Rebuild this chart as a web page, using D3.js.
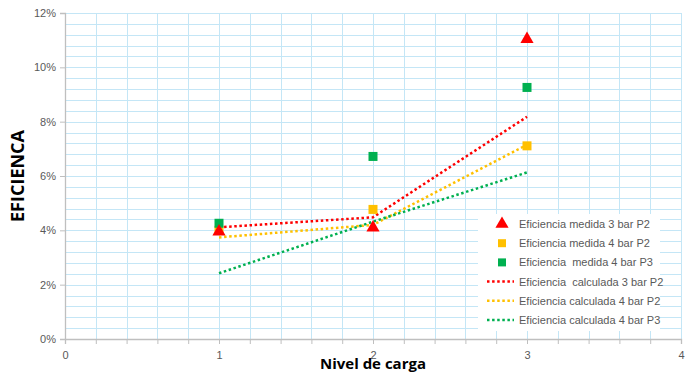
<!DOCTYPE html>
<html>
<head>
<meta charset="utf-8">
<script src="https://cdn.jsdelivr.net/npm/d3@7"></script>
<style>
  html, body { margin: 0; padding: 0; background: #fff; }
  svg { display: block; font-family: "Liberation Sans", "DejaVu Sans", sans-serif; }
</style>
</head>
<body>
<svg id="chart" width="694" height="374"></svg>
<script>
// Load levels (x) and efficiencies (as fractions)
const levels = [1, 2, 3];

const medida3P2 = [0.0395, 0.041, 0.1104];
const medida4P2 = [0.040, 0.0477, 0.0711];
const medida4P3 = [0.0426, 0.0672, 0.0926];

const calculada3P2 = [0.0411, 0.0448, 0.0818];
const calculada4P2 = [0.0374, 0.0420, 0.0715];
const calculada4P3 = [0.0242, 0.0432, 0.0613];

const xTicks = [0, 1, 2, 3, 4];
const yTicks = [0, 0.02, 0.04, 0.06, 0.08, 0.10, 0.12];

const legendLabels = [
  "Eficiencia medida 3 bar P2",
  "Eficiencia medida 4 bar P2",
  "Eficiencia  medida 4 bar P3",
  "Eficiencia  calculada 3 bar P2",
  "Eficiencia calculada 4 bar P2",
  "Eficiencia calculada 4 bar P3"
];

const RED = "#ff0000", ORANGE = "#ffc000", GREEN = "#00b050";

const svg = d3.select("#chart");
const x = d3.scaleLinear().domain([0, 4]).range([65, 681]);
const y = d3.scaleLinear().domain([0, 0.12]).range([339, 13]);

// minor grid: every 0.2 on x, every 0.4% on y
const gridX = d3.range(0, 4.0001, 0.2);
const gridY = d3.range(0, 0.12001, 0.004);
const grid = svg.append("g").attr("stroke", "#c4e6f6").attr("stroke-width", 1);
grid.selectAll("line.gx").data(gridX).join("line")
  .attr("x1", d => Math.round(x(d)) + 0.5).attr("x2", d => Math.round(x(d)) + 0.5)
  .attr("y1", y(0.12)).attr("y2", y(0));
grid.selectAll("line.gy").data(gridY).join("line")
  .attr("x1", x(0)).attr("x2", x(4))
  .attr("y1", d => Math.round(y(d)) + 0.5).attr("y2", d => Math.round(y(d)) + 0.5);

// axes
const yAxis = d3.axisLeft(y).tickValues(yTicks).tickFormat(d3.format(".0%")).tickSize(5).tickPadding(4);
const gy = svg.append("g").attr("transform", `translate(${x(0)},0)`).call(yAxis);
const xAxis = d3.axisBottom(x).tickValues(gridX)
  .tickFormat(d => {
    const r = Math.round(d);
    return Math.abs(d - r) < 1e-6 && xTicks.includes(r) ? d3.format("d")(r) : "";
  })
  .tickSize(5).tickPadding(7);
const gx = svg.append("g").attr("transform", `translate(0,${y(0)})`).call(xAxis);
[gx, gy].forEach(g => {
  g.select(".domain").attr("stroke", "#bfbfbf").attr("stroke-width", 1.3);
  g.selectAll(".tick line").attr("stroke", "#bfbfbf");
  g.selectAll(".tick text").attr("fill", "#595959").attr("font-size", 11).attr("font-family", "'Liberation Sans', sans-serif");
});

// axis titles
svg.append("text")
  .attr("transform", `translate(24,${(y(0) + y(0.12)) / 2}) rotate(-90)`)
  .attr("text-anchor", "middle").attr("font-weight", "bold").attr("font-size", 18)
  .attr("fill", "#000").attr("font-family", "'Open Sans', sans-serif")
  .text("EFICIENCA");
svg.append("text")
  .attr("x", x(2)).attr("y", 369)
  .attr("text-anchor", "middle").attr("font-weight", "bold").attr("font-size", 15)
  .attr("fill", "#000").attr("font-family", "'Open Sans', sans-serif")
  .text("Nivel de carga");

// calculated dotted lines
const line = d3.line().x((d, i) => x(levels[i])).y(d => y(d));
const calcSeries = [[calculada3P2, RED], [calculada4P2, ORANGE], [calculada4P3, GREEN]];
svg.append("g").selectAll("path").data(calcSeries).join("path")
  .attr("d", d => line(d[0]))
  .attr("fill", "none").attr("stroke", d => d[1])
  .attr("stroke-width", 2.5).attr("stroke-dasharray", "2.5 2.6");

// measured markers
const tri = d3.symbol().type(d3.symbolTriangle).size(75);
const pts = svg.append("g");
pts.selectAll("rect.o").data(medida4P2).join("rect")
  .attr("x", (d, i) => x(levels[i]) - 4.5).attr("y", d => y(d) - 4.5)
  .attr("width", 9).attr("height", 9).attr("fill", ORANGE);
pts.selectAll("rect.g").data(medida4P3).join("rect")
  .attr("x", (d, i) => x(levels[i]) - 4.5).attr("y", d => y(d) - 4.5)
  .attr("width", 9).attr("height", 9).attr("fill", GREEN);
pts.selectAll("path.t").data(medida3P2).join("path")
  .attr("d", tri).attr("fill", RED)
  .attr("transform", (d, i) => `translate(${x(levels[i])},${y(d)})`);

// legend
const lg = svg.append("g");
lg.append("rect").attr("x", 478).attr("y", 214).attr("width", 182).attr("height", 117).attr("fill", "#fff");
const rowY = i => 224 + i * 19.2;
const items = lg.selectAll("g").data(legendLabels).join("g")
  .attr("transform", (d, i) => `translate(0,${rowY(i)})`);
items.append("text").attr("x", 519).attr("y", 4)
  .attr("font-size", 11).attr("fill", "#595959").attr("xml:space", "preserve")
  .style("white-space", "pre")
  .text(d => d);
items.filter((d, i) => i === 0).append("path").attr("d", tri).attr("fill", RED).attr("transform", "translate(502,0)");
items.filter((d, i) => i === 1).append("rect").attr("x", 498).attr("y", -4).attr("width", 8).attr("height", 8).attr("fill", ORANGE);
items.filter((d, i) => i === 2).append("rect").attr("x", 498).attr("y", -4).attr("width", 8).attr("height", 8).attr("fill", GREEN);
const lineCols = [RED, ORANGE, GREEN];
items.filter((d, i) => i >= 3).append("line")
  .attr("x1", 487).attr("x2", 514).attr("y1", 0).attr("y2", 0)
  .attr("stroke", (d, i) => lineCols[i]).attr("stroke-width", 2.5).attr("stroke-dasharray", "2.5 2.6");
</script>
</body>
</html>
